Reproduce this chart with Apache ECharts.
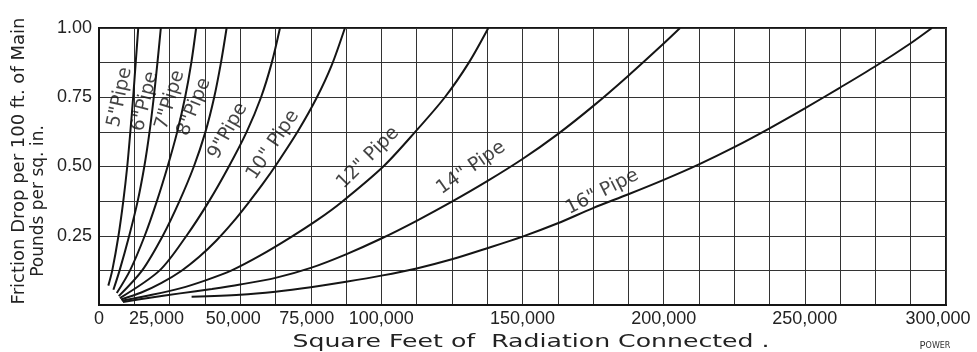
<!DOCTYPE html>
<html>
<head>
<meta charset="utf-8">
<script src="https://cdn.jsdelivr.net/npm/echarts@6/dist/echarts.min.js"></script>
<style>
  html, body { margin: 0; padding: 0; background: #fff; }
  #chart { width: 977px; height: 352px; }
</style>
</head>
<body>
<div id="chart"></div>
<script>
// Friction drop (lb/sq.in. per 100 ft of main) against square feet of radiation connected.
// Each curve: [square feet of radiation, friction drop]
const pipe5  = [[3300,0.07],[4700,0.125],[6900,0.25],[8600,0.375],[10000,0.5],[11100,0.625],[12100,0.75],[13000,0.875],[13900,1.0]];
const pipe6  = [[5100,0.055],[7300,0.125],[10700,0.25],[13700,0.375],[16050,0.5],[17900,0.625],[19400,0.75],[20700,0.875],[21900,1.0]];
const pipe7  = [[6300,0.043],[11000,0.125],[16200,0.25],[20500,0.375],[24300,0.5],[27700,0.625],[30500,0.75],[32700,0.875],[34400,1.0]];
const pipe8  = [[7000,0.032],[15300,0.125],[22600,0.25],[28500,0.375],[33600,0.5],[37700,0.625],[40800,0.75],[43200,0.875],[45200,1.0]];
const pipe9  = [[7400,0.025],[21500,0.125],[31000,0.25],[39000,0.375],[46000,0.5],[52300,0.625],[57400,0.75],[61200,0.875],[64100,1.0]];
const pipe10 = [[7800,0.02],[15000,0.045],[22000,0.079],[29000,0.122],[35500,0.174],[41500,0.232],[47500,0.3],[53000,0.37],[58000,0.437],[63000,0.51],[70600,0.63],[77100,0.748],[82400,0.865],[87100,1.0]];
const pipe12 = [[8100,0.015],[18000,0.035],[28700,0.06],[38000,0.09],[47000,0.125],[57000,0.178],[68000,0.245],[77500,0.308],[86000,0.372],[100700,0.5],[112000,0.625],[122500,0.75],[131000,0.875],[137900,1.0]];
const pipe14 = [[8500,0.011],[18000,0.026],[28700,0.042],[40000,0.058],[50000,0.074],[62500,0.098],[75000,0.134],[87500,0.183],[100000,0.24],[112500,0.304],[125000,0.373],[137500,0.447],[150000,0.527],[162500,0.617],[175000,0.718],[187500,0.828],[200000,0.944],[205800,1.0]];
const pipe16 = [[32800,0.03],[50000,0.037],[62500,0.048],[75000,0.064],[87500,0.084],[100000,0.106],[112500,0.132],[125000,0.165],[137500,0.205],[150000,0.247],[162500,0.295],[175000,0.35],[187500,0.4],[200000,0.452],[212500,0.508],[225000,0.57],[237500,0.638],[250000,0.71],[262500,0.785],[275000,0.862],[287500,0.945],[295000,1.0]];

const pipeNames = ['5"Pipe', '6"Pipe', '7"Pipe', '8"Pipe', '9"Pipe', '10" Pipe', '12" Pipe', '14" Pipe', '16" Pipe'];
const pipeCurves = [pipe5, pipe6, pipe7, pipe8, pipe9, pipe10, pipe12, pipe14, pipe16];

// Tick labels printed on the axes
const xTickValues = [0, 25000, 50000, 75000, 100000, 150000, 200000, 250000, 300000];
const xTickLabels = ['0', '25,000', '50,000', '75,000', '100,000', '150,000', '200,000', '250,000', '300,000'];
const yTickValues = [0.25, 0.5, 0.75, 1.0];
const yTickLabels = ['0.25', '0.50', '0.75', '1.00'];

// Where each pipe-size caption sits along its curve: [sq ft, drop, angle in degrees]
const captionAnchors = [
  [7400, 0.75, 78], [16300, 0.735, 76], [25200, 0.74, 73], [33700, 0.715, 68],
  [45700, 0.628, 61], [61600, 0.578, 56], [95300, 0.531, 45], [131800, 0.495, 35], [178200, 0.408, 27]
];

const INK = '#151515';
const TEXT = '#222';
const SANS = '"DejaVu Sans", sans-serif';
const TICK_FONT = '"Liberation Sans", sans-serif';

// hand-lettered tick labels near the origin sit a little left of their ticks
const labelNudge = { 25000: 26, 50000: 14, 75000: 8, 300000: 16 };

const chart = echarts.init(document.getElementById('chart'), null, { renderer: 'canvas' });

const curveSeries = pipeCurves.map((pts, i) => ({
  type: 'line',
  name: pipeNames[i],
  data: pts,
  smooth: 0.3,
  showSymbol: false,
  silent: true,
  lineStyle: { color: INK, width: 2 },
  z: 3
}));

const captionSeries = {
  type: 'scatter',
  symbolSize: 0,
  silent: true,
  z: 4,
  data: captionAnchors.map((a, i) => ({
    value: [a[0], a[1]],
    label: {
      show: true,
      position: 'inside',
      rotate: a[2],
      formatter: pipeNames[i],
      fontFamily: SANS,
      fontSize: 19,
      color: INK
    }
  }))
};

const xRich = {};
Object.keys(labelNudge).forEach(k => {
  xRich['n' + k] = { padding: [0, labelNudge[k], 0, 0], fontFamily: TICK_FONT, fontSize: 18, color: TEXT };
});

chart.setOption({
  backgroundColor: '#fff',
  animation: false,
  grid: {
    left: 99, right: 31, top: 28, bottom: 47,
    show: true, borderColor: INK, borderWidth: 2
  },
  xAxis: {
    type: 'value',
    min: 0, max: 300000, interval: 12500,
    axisLine: { show: true, lineStyle: { color: INK, width: 2 } },
    axisTick: { show: false },
    splitLine: { show: true, lineStyle: { color: '#333', width: 1 } },
    axisLabel: {
      margin: 5,
      fontFamily: TICK_FONT, fontSize: 18, color: TEXT,
      showMinLabel: true, showMaxLabel: true,
      rich: xRich,
      formatter: v => {
        const k = xTickValues.indexOf(v);
        if (k < 0) return '';
        return labelNudge[v] ? '{n' + v + '|' + xTickLabels[k] + '}' : xTickLabels[k];
      }
    }
  },
  yAxis: {
    type: 'value',
    min: 0, max: 1, interval: 0.125,
    axisLine: { show: true, lineStyle: { color: INK, width: 2 } },
    axisTick: { show: false },
    splitLine: { show: true, lineStyle: { color: '#333', width: 1 } },
    axisLabel: {
      margin: 7,
      fontFamily: TICK_FONT, fontSize: 18, color: TEXT,
      formatter: v => {
        const k = yTickValues.findIndex(t => Math.abs(t - v) < 1e-6);
        return k >= 0 ? yTickLabels[k] : '';
      }
    }
  },
  graphic: [
    {
      type: 'text', x: 19, y: 161, rotation: Math.PI / 2,
      style: { text: 'Friction Drop per 100 ft. of Main', fontFamily: SANS, fontSize: 18, fill: TEXT, textAlign: 'center', textVerticalAlign: 'middle' }
    },
    {
      type: 'text', x: 39, y: 201, rotation: Math.PI / 2,
      style: { text: 'Pounds per sq. in.', fontFamily: SANS, fontSize: 17, fill: TEXT, textAlign: 'center', textVerticalAlign: 'middle' }
    },
    {
      type: 'text', x: 531, y: 342, scaleX: 1.36,
      style: { text: 'Square Feet of  Radiation Connected .', fontFamily: SANS, fontSize: 18.5, fill: TEXT, textAlign: 'center', textVerticalAlign: 'middle' }
    },
    {
      type: 'text', x: 935, y: 346,
      style: {
        text: '{a|P}{b|OWER}',
        textAlign: 'center', textVerticalAlign: 'middle',
        rich: {
          a: { fontFamily: SANS, fontSize: 10, fill: '#333' },
          b: { fontFamily: SANS, fontSize: 8, fill: '#333' }
        }
      }
    }
  ],
  series: [...curveSeries, captionSeries]
});
</script>
</body>
</html>
